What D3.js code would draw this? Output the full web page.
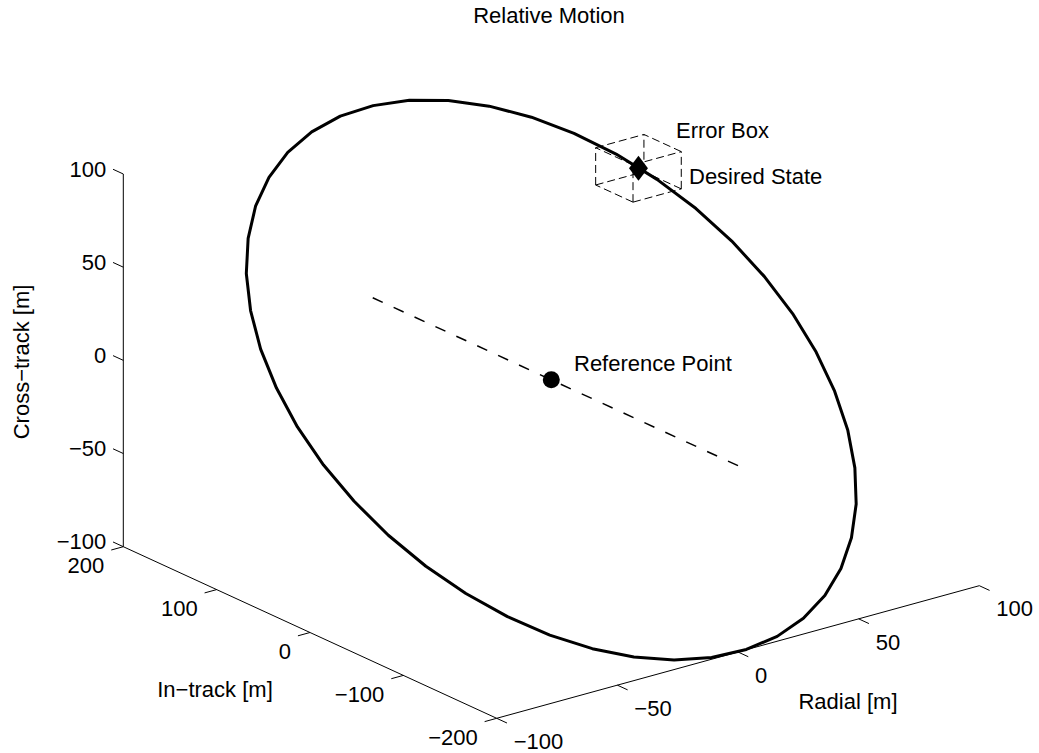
<!DOCTYPE html>
<html><head><meta charset="utf-8">
<script src="https://cdn.jsdelivr.net/npm/d3@7"></script>
<style>
body{margin:0;background:#fff}
svg{display:block}
text{font-family:"Liberation Sans",Arial,Helvetica,sans-serif;fill:#000;font-size:22px}
</style>
</head><body><svg id="c" width="1039" height="753"></svg>
<script>
// ---------- data ----------
const titleText = "Relative Motion";
const radialTicks = [-100, -50, 0, 50, 100];
const inTrackTicks = [-200, -100, 0, 100, 200];
const crossTicks = [-100, -50, 0, 50, 100];
const radialLabel = "Radial [m]";
const inTrackLabel = "In\u2212track [m]";
const crossLabel = "Cross\u2212track [m]";

// relative-motion orbit samples (radial, in-track, cross-track) [m]
const orbitRadial = [100,99.0,96.1,91.4,84.8,76.6,66.9,55.9,43.8,30.9,17.4,3.5,-10.5,-24.2,-37.5,-50.0,-61.6,-71.9,-80.9,-88.3,-94.0,-97.8,-99.8,-99.8,-97.8,-94.0,-88.3,-80.9,-71.9,-61.6,-50.0,-37.5,-24.2,-10.5,3.5,17.4,30.9,43.8,55.9,66.9,76.6,84.8,91.4,96.1,99.0,100];
const orbitInTrack = [0,27.8,55.1,81.3,106.0,128.6,148.6,165.8,179.8,190.2,197.0,199.9,198.9,194.1,185.4,173.2,157.6,138.9,117.6,93.9,68.4,41.6,14.0,-14.0,-41.6,-68.4,-93.9,-117.6,-138.9,-157.6,-173.2,-185.4,-194.1,-198.9,-199.9,-197.0,-190.2,-179.8,-165.8,-148.6,-128.6,-106.0,-81.3,-55.1,-27.8,0];
const orbitCross = [0,13.9,27.6,40.7,53.0,64.3,74.3,82.9,89.9,95.1,98.5,99.9,99.5,97.0,92.7,86.6,78.8,69.5,58.8,47.0,34.2,20.8,7.0,-7.0,-20.8,-34.2,-47.0,-58.8,-69.5,-78.8,-86.6,-92.7,-97.0,-99.5,-99.9,-98.5,-95.1,-89.9,-82.9,-74.3,-64.3,-53.0,-40.7,-27.6,-13.9,0];

const referencePoint = [0, 0, 0];
const referenceLineInTrack = [-200, 200];
const desiredState = [81, 116, 58];
const errorBoxHalfSize = [10, 20, 10];
const annotations = ["Error Box", "Desired State", "Reference Point"];

// ---------- projection (orthographic 3D view) ----------
const xS = d3.scaleLinear().domain([-100, 100]).range([0, 1]);
const yS = d3.scaleLinear().domain([-200, 200]).range([0, 1]);
const zS = d3.scaleLinear().domain([-100, 100]).range([0, 1]);
const C0 = [496.7, 718.3], EX = [482.6, -132.6], EY = [-373.4, -171.6], EZ = [0, -372.7];
function P(x, y, z) {
  const u = xS(x), v = yS(y), w = zS(z);
  return [C0[0] + u*EX[0] + v*EY[0] + w*EZ[0], C0[1] + u*EX[1] + v*EY[1] + w*EZ[1]];
}
const fmt = t => String(t).replace("-", "\u2212");

const svg = d3.select("#c");
const line = d3.line();
function seg(g, a, b) {
  return g.append("path").attr("d", line([a, b])).attr("fill", "none").attr("stroke", "#000");
}

// ---------- axes ----------
const ax = svg.append("g").attr("stroke-width", 1);
seg(ax, P(-100, 200, -100), P(-100, 200, 100));
seg(ax, P(-100, -200, -100), P(-100, 200, -100));
seg(ax, P(-100, -200, -100), P(100, -200, -100));

crossTicks.forEach(t => {
  seg(ax, P(-100, 200, t), P(-100, 211, t));
  const p = P(-100, 200, t);
  svg.append("text").attr("x", p[0] - 17).attr("y", p[1] - 5).attr("dy", "0.35em")
    .attr("text-anchor", "end").text(fmt(t));
});
inTrackTicks.forEach(t => {
  seg(ax, P(-100, t, -100), P(-105, t, -100));
  const p = P(-100, t, -100);
  svg.append("text").attr("x", p[0] - 19).attr("y", p[1] + 19).attr("dy", "0.35em")
    .attr("text-anchor", "end").text(fmt(t));
});
radialTicks.forEach(t => {
  seg(ax, P(t, -200, -100), P(t, -211, -100));
  const p = P(t, -200, -100);
  svg.append("text").attr("x", p[0] + 17).attr("y", p[1] + 23).attr("dy", "0.35em")
    .attr("text-anchor", "start").text(fmt(t));
});

svg.append("text").attr("transform", "translate(21,362) rotate(-90)").attr("dy", "0.35em")
  .attr("text-anchor", "middle").text(crossLabel);
svg.append("text").attr("x", 215).attr("y", 689).attr("dy", "0.35em")
  .attr("text-anchor", "middle").text(inTrackLabel);
svg.append("text").attr("x", 848).attr("y", 701).attr("dy", "0.35em")
  .attr("text-anchor", "middle").text(radialLabel);
svg.append("text").attr("x", 549).attr("y", 23)
  .attr("text-anchor", "middle").text(titleText);

// ---------- reference line ----------
svg.append("path")
  .attr("d", line([P(0, referenceLineInTrack[0], 0), P(0, referenceLineInTrack[1], 0)]))
  .attr("fill", "none").attr("stroke", "#000").attr("stroke-width", 1.5)
  .attr("stroke-dasharray", "11,12");

// ---------- orbit ----------
const orbitPts = orbitRadial.map((x, i) => P(x, orbitInTrack[i], orbitCross[i]));
svg.append("path").attr("d", line(orbitPts)).attr("fill", "none")
  .attr("stroke", "#000").attr("stroke-width", 3).attr("stroke-linejoin", "round");

// ---------- error box ----------
const [dx, dy, dz] = errorBoxHalfSize, [cx, cy, cz] = desiredState;
const xs = [cx - dx, cx + dx], ys = [cy - dy, cy + dy], zs = [cz - dz, cz + dz];
const boxG = svg.append("g").attr("stroke-width", 1).attr("stroke-dasharray", "8,4");
for (const a of [0,1]) for (const b of [0,1]) {
  seg(boxG, P(xs[0], ys[a], zs[b]), P(xs[1], ys[a], zs[b]));
  seg(boxG, P(xs[a], ys[0], zs[b]), P(xs[a], ys[1], zs[b]));
  seg(boxG, P(xs[a], ys[b], zs[0]), P(xs[a], ys[b], zs[1]));
}

// ---------- markers ----------
const rp = P(...referencePoint);
svg.append("circle").attr("cx", rp[0]).attr("cy", rp[1]).attr("r", 8.5).attr("fill", "#000");
const dp = P(...desiredState);
svg.append("path").attr("d", `M${dp[0]},${dp[1]-12.5}L${dp[0]+9.5},${dp[1]}L${dp[0]},${dp[1]+12.5}L${dp[0]-9.5},${dp[1]}Z`)
  .attr("fill", "#000");

// ---------- annotations ----------
svg.append("text").attr("x", 676).attr("y", 130).attr("dy", "0.35em").text(annotations[0]);
svg.append("text").attr("x", 689).attr("y", 176).attr("dy", "0.35em").text(annotations[1]);
svg.append("text").attr("x", 574).attr("y", 363).attr("dy", "0.35em").text(annotations[2]);
</script>
</body></html>
